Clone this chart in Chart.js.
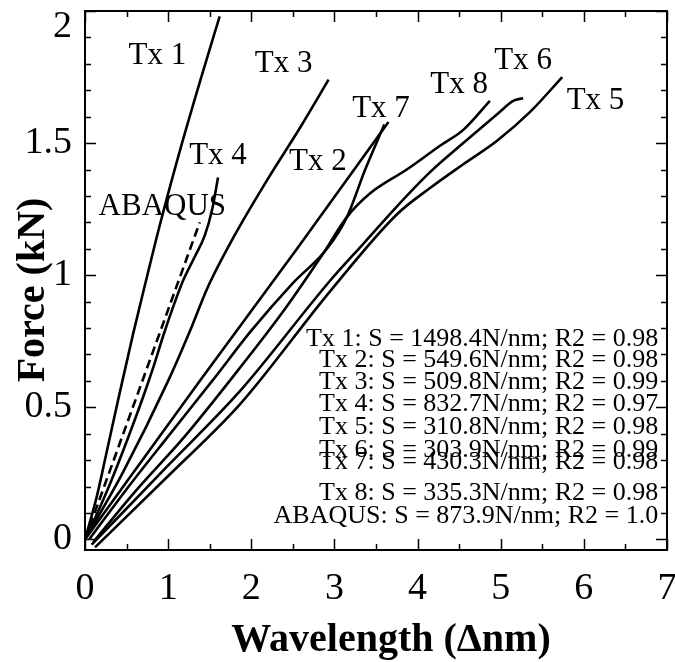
<!DOCTYPE html>
<html>
<head>
<meta charset="utf-8">
<title>Force vs wavelength</title>
<script src="https://cdn.jsdelivr.net/npm/chart.js@4.4.1/dist/chart.umd.min.js"></script>
<style>
  html, body { margin: 0; background: #fff; }
</style>
</head>
<body>
<canvas id="chart" width="675" height="662"></canvas>
<script>
// Force–wavelength curves for eight samples plus the ABAQUS model
const SERIF = '"Liberation Serif", "Times New Roman", serif';

const tx1X = [0, 0.14, 0.26, 0.40, 0.58, 0.75, 0.90, 1.14, 1.38, 1.62];
const tx1Y = [0, 0.16, 0.33, 0.53, 0.78, 1.00, 1.19, 1.47, 1.73, 1.98];

const tx2X = [0.05, 0.50, 1.00, 1.53, 2.00, 2.50, 2.91, 3.15, 3.37, 3.60];
const tx2Y = [0, 0.19, 0.39, 0.60, 0.79, 0.97, 1.10, 1.22, 1.40, 1.57];

const tx3X = [0, 0.45, 1.00, 1.29, 1.47, 1.78, 2.19, 2.59, 2.93];
const tx3Y = [0, 0.25, 0.60, 0.81, 0.95, 1.14, 1.36, 1.56, 1.74];

const tx4X = [0, 0.12, 0.30, 0.50, 0.70, 0.82, 0.94, 1.06, 1.18, 1.32, 1.44, 1.53, 1.60];
const tx4Y = [0, 0.08, 0.21, 0.37, 0.54, 0.65, 0.77, 0.88, 0.98, 1.07, 1.15, 1.25, 1.37];

const tx5X = [0.12, 1.00, 1.86, 2.95, 3.75, 4.15, 4.55, 4.96, 5.36, 5.74];
const tx5Y = [-0.03, 0.24, 0.51, 0.94, 1.23, 1.33, 1.42, 1.51, 1.62, 1.75];

const tx6X = [0.08, 1.00, 1.86, 2.95, 3.35, 3.75, 4.15, 4.55, 4.96, 5.15, 5.27];
const tx6Y = [-0.02, 0.28, 0.56, 0.98, 1.12, 1.26, 1.39, 1.50, 1.61, 1.66, 1.67];

const tx7X = [0, 1.38, 2.55, 3.65];
const tx7Y = [0, 0.60, 1.10, 1.58];

const tx8X = [0.10, 0.60, 1.20, 1.74, 2.40, 2.86, 3.15, 3.43, 3.87, 4.27, 4.55, 4.87];
const tx8Y = [-0.01, 0.18, 0.39, 0.60, 0.87, 1.08, 1.22, 1.31, 1.40, 1.49, 1.55, 1.66];

const abaqusX = [0, 1.38];
const abaqusY = [0, 1.20];

// axis ticks
const X_TICKS = [0, 1, 2, 3, 4, 5, 6, 7];
const Y_TICKS = [0, 0.5, 1, 1.5, 2];
const Y_TICK_LABELS = ['0', '0.5', '1', '1.5', '2'];

// curve labels
const CURVE_LABELS = ['Tx 1', 'Tx 3', 'Tx 4', 'ABAQUS', 'Tx 2', 'Tx 7', 'Tx 8', 'Tx 6', 'Tx 5'];
const CURVE_LABEL_X = [0.87, 2.39, 1.60, 0.93, 2.80, 3.56, 4.50, 5.27, 6.14];
const CURVE_LABEL_Y = [1.83, 1.80, 1.45, 1.26, 1.43, 1.63, 1.72, 1.81, 1.66];

// stiffness fit summary
const FIT_LINES = [
  'Tx 1: S = 1498.4N/nm; R2 = 0.98',
  'Tx 2: S = 549.6N/nm; R2 = 0.98',
  'Tx 3: S = 509.8N/nm; R2 = 0.99',
  'Tx 4: S = 832.7N/nm; R2 = 0.97',
  'Tx 5: S = 310.8N/nm; R2 = 0.98',
  'Tx 6: S = 303.9N/nm; R2 = 0.99',
  'Tx 7: S = 430.3N/nm; R2 = 0.98',
  'Tx 8: S = 335.3N/nm; R2 = 0.98',
  'ABAQUS: S = 873.9N/nm; R2 = 1.0'
];
const FIT_X = 6.895;
const FIT_Y = [0.731, 0.652, 0.568, 0.485, 0.398, 0.311, 0.265, 0.148, 0.061];

function points(xs, ys) {
  return xs.map((x, i) => ({ x, y: ys[i] }));
}

function curve(xs, ys, dashed) {
  return {
    data: points(xs, ys),
    showLine: true,
    borderColor: '#000',
    borderWidth: 2.6,
    borderDash: dashed ? [9, 5] : [],
    pointRadius: 0,
    cubicInterpolationMode: 'monotone',
    fill: false
  };
}

const datasets = [
  curve(tx1X, tx1Y),
  curve(tx2X, tx2Y),
  curve(tx3X, tx3Y),
  curve(tx4X, tx4Y),
  curve(tx5X, tx5Y),
  curve(tx6X, tx6Y),
  curve(tx7X, tx7Y),
  curve(tx8X, tx8Y),
  curve(abaqusX, abaqusY, true)
];

// box frame with inward ticks, tick labels, titles and annotations
const framePlugin = {
  id: 'frame',
  afterDraw(chart) {
    const { ctx, chartArea: a, scales } = chart;
    const sx = scales.x, sy = scales.y;
    ctx.save();
    ctx.strokeStyle = '#000';
    ctx.fillStyle = '#000';

    ctx.lineWidth = 2;
    ctx.strokeRect(a.left, a.top, a.right - a.left, a.bottom - a.top);

    ctx.lineWidth = 1.5;
    ctx.beginPath();
    for (let i = 0; i <= 14; i++) {
      const v = i / 2;
      const px = Math.round(sx.getPixelForValue(v)) + 0.5;
      const len = i % 2 === 0 ? 11 : 6;
      ctx.moveTo(px, a.bottom); ctx.lineTo(px, a.bottom - len);
      ctx.moveTo(px, a.top); ctx.lineTo(px, a.top + len);
    }
    for (let i = 0; i <= 20; i++) {
      const v = i / 10;
      const py = Math.round(sy.getPixelForValue(v)) + 0.5;
      const len = i % 5 === 0 ? 11 : 6;
      ctx.moveTo(a.left, py); ctx.lineTo(a.left + len, py);
      ctx.moveTo(a.right, py); ctx.lineTo(a.right - len, py);
    }
    ctx.stroke();

    // tick labels
    ctx.font = '38px ' + SERIF;
    ctx.textAlign = 'center';
    ctx.textBaseline = 'middle';
    X_TICKS.forEach(v => {
      ctx.fillText(String(v), sx.getPixelForValue(v), 589);
    });
    ctx.textAlign = 'right';
    Y_TICKS.forEach((v, i) => {
      const py = Math.max(sy.getPixelForValue(v), a.top + 16);
      ctx.fillText(Y_TICK_LABELS[i], a.left - 13, py);
    });

    // axis titles
    ctx.font = 'bold 40px ' + SERIF;
    ctx.textAlign = 'center';
    ctx.textBaseline = 'alphabetic';
    ctx.fillText('Wavelength (\u0394nm)', 391, 651);
    ctx.save();
    ctx.translate(44, 290);
    ctx.rotate(-Math.PI / 2);
    ctx.fillText('Force (kN)', 0, 0);
    ctx.restore();

    // curve labels
    ctx.font = '31px ' + SERIF;
    ctx.textAlign = 'center';
    ctx.textBaseline = 'middle';
    CURVE_LABELS.forEach((t, i) => {
      ctx.fillText(t, sx.getPixelForValue(CURVE_LABEL_X[i]), sy.getPixelForValue(CURVE_LABEL_Y[i]));
    });

    // fit summary
    ctx.font = '26px ' + SERIF;
    ctx.textAlign = 'right';
    ctx.textBaseline = 'alphabetic';
    FIT_LINES.forEach((t, i) => {
      ctx.fillText(t, sx.getPixelForValue(FIT_X), sy.getPixelForValue(FIT_Y[i]));
    });

    ctx.restore();
  }
};

new Chart(document.getElementById('chart'), {
  type: 'scatter',
  data: { datasets },
  options: {
    responsive: false,
    animation: false,
    devicePixelRatio: 1,
    layout: { padding: { left: 85, right: 8, top: 11, bottom: 112 } },
    plugins: { legend: { display: false }, tooltip: { enabled: false } },
    scales: {
      x: { type: 'linear', min: 0, max: 7, display: false },
      y: { type: 'linear', min: -0.04, max: 2, display: false }
    }
  },
  plugins: [framePlugin]
});
</script>
</body>
</html>
